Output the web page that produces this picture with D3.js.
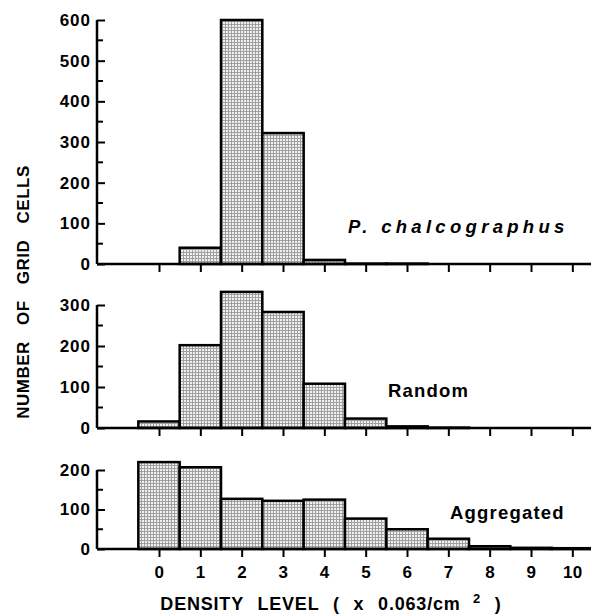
<!DOCTYPE html>
<html>
<head>
<meta charset="utf-8">
<script src="https://cdn.jsdelivr.net/npm/d3@7"></script>
<style>
  body { margin: 0; background: #fff; }
  text { font-family: "Liberation Sans", Arial, sans-serif; font-weight: bold; fill: #000; }
</style>
</head>
<body>
<div id="chart"></div>
<script>
// data
var densityLevels = [0, 1, 2, 3, 4, 5, 6, 7, 8, 9, 10];
var chalcographusCounts = [0, 40, 600, 322, 10, 1, 1, 0, 0, 0, 0];
var randomCounts = [16, 202, 332, 283, 108, 23, 4, 1, 0, 0, 0];
var aggregatedCounts = [220, 207, 127, 122, 125, 77, 50, 26, 7, 3, 2];
var panelNames = ["P. chalcographus", "Random", "Aggregated"];
var yTicksTop = [0, 100, 200, 300, 400, 500, 600];
var yTicksMid = [0, 100, 200, 300];
var yTicksBot = [0, 100, 200];

var svgWidth = 591;
var svgHeight = 615;

var svg = d3.select("#chart").append("svg")
  .attr("width", svgWidth)
  .attr("height", svgHeight);

// stipple fill
var pat = svg.append("defs").append("pattern")
  .attr("id", "stipple")
  .attr("width", 3)
  .attr("height", 3)
  .attr("patternUnits", "userSpaceOnUse");
pat.append("rect").attr("width", 3).attr("height", 3).attr("fill", "#f0f0f0");
pat.append("rect").attr("width", 3).attr("height", 1).attr("fill", "#a0a0a0");
pat.append("rect").attr("width", 1).attr("height", 3).attr("fill", "#a0a0a0");

var xScale = d3.scaleLinear()
  .domain([-1.5, 10.5])
  .range([97, 593]);

var panels = [
  { counts: chalcographusCounts, ticks: yTicksTop, max: 600, y0: 264, y1: 20,
    name: panelNames[0], lx: 348, ly: 233, italic: true, ls: 4.3 },
  { counts: randomCounts, ticks: yTicksMid, max: 300, y0: 428, y1: 305,
    name: panelNames[1], lx: 388, ly: 397, italic: false, ls: 1.2 },
  { counts: aggregatedCounts, ticks: yTicksBot, max: 200, y0: 549, y1: 470,
    name: panelNames[2], lx: 450, ly: 519, italic: false, ls: 1.2 }
];

var labelFont = '"Liberation Sans", Arial, sans-serif';

panels.forEach(function(p, pi) {
  var yScale = d3.scaleLinear().domain([0, p.max]).range([p.y0, p.y1]);
  var g = svg.append("g");

  // bars
  g.selectAll("rect.bar")
    .data(p.counts.map(function(v, i) { return { lvl: densityLevels[i], v: v }; })
      .filter(function(d) { return d.v > 0; }))
    .enter()
    .append("rect")
    .attr("class", "bar")
    .attr("x", d => xScale(d.lvl - 0.5))
    .attr("width", d => xScale(d.lvl + 0.5) - xScale(d.lvl - 0.5))
    .attr("y", d => yScale(d.v))
    .attr("height", d => yScale(0) - yScale(d.v))
    .attr("fill", "url(#stipple)")
    .attr("stroke", "#000")
    .attr("stroke-width", 2.5);

  // x axis
  var xAxis = d3.axisBottom(xScale)
    .tickValues(densityLevels)
    .tickSize(8)
    .tickFormat(pi == 2 ? d3.format("d") : "");
  var xg = g.append("g")
    .attr("transform", `translate(0, ${p.y0})`)
    .call(xAxis);
  xg.select(".domain").attr("stroke-width", 2.5).attr("d", `M${xScale(-1.5)},0H${xScale(10.5)}`);
  xg.selectAll(".tick line").attr("stroke-width", 2);
  xg.selectAll(".tick text")
    .attr("y", 29)
    .attr("dy", 0)
    .style("font-size", "17px")
    .style("font-weight", "bold")
    .style("letter-spacing", "0.5px")
    .style("font-family", labelFont);

  // y axis (major)
  var yAxis = d3.axisRight(yScale)
    .tickValues(p.ticks)
    .tickSize(8)
    .tickFormat(d3.format("d"));
  var yg = g.append("g")
    .attr("transform", `translate(${xScale(-1.5)}, 0)`)
    .call(yAxis);
  yg.select(".domain").attr("stroke-width", 2.5).attr("d", `M0,${p.y0}V${p.y1}`);
  yg.selectAll(".tick line").attr("stroke-width", 2);
  yg.selectAll(".tick text")
    .attr("x", -6)
    .attr("text-anchor", "end")
    .style("font-size", "17px")
    .style("font-weight", "bold")
    .style("letter-spacing", "1px")
    .style("font-family", labelFont);

  // minor ticks
  var minor = d3.range(50, p.max, 100);
  g.selectAll("line.minor")
    .data(minor)
    .enter()
    .append("line")
    .attr("class", "minor")
    .attr("x1", xScale(-1.5))
    .attr("x2", xScale(-1.5) + 6)
    .attr("y1", d => yScale(d))
    .attr("y2", d => yScale(d))
    .attr("stroke", "#000")
    .attr("stroke-width", 2);

  // panel label
  g.append("text")
    .attr("x", p.lx)
    .attr("y", p.ly)
    .style("font-size", "18.5px")
    .style("font-style", p.italic ? "italic" : "normal")
    .style("letter-spacing", p.ls + "px")
    .text(p.name);
});

// axis titles
svg.append("text")
  .attr("transform", "translate(29, 292) rotate(-90)")
  .attr("text-anchor", "middle")
  .style("font-size", "17px")
  .style("word-spacing", "11px")
  .style("letter-spacing", "0.5px")
  .text("NUMBER OF GRID CELLS");

var xTitle = svg.append("text")
  .attr("x", 331)
  .attr("y", 610)
  .attr("text-anchor", "middle")
  .style("font-size", "18px")
  .style("word-spacing", "8px")
  .style("letter-spacing", "0.8px");
xTitle.append("tspan").text("DENSITY LEVEL ( x 0.063/cm");
xTitle.append("tspan").attr("dy", -7).style("font-size", "13px").text(" 2");
xTitle.append("tspan").attr("dy", 7).text(" )");
</script>
</body>
</html>
